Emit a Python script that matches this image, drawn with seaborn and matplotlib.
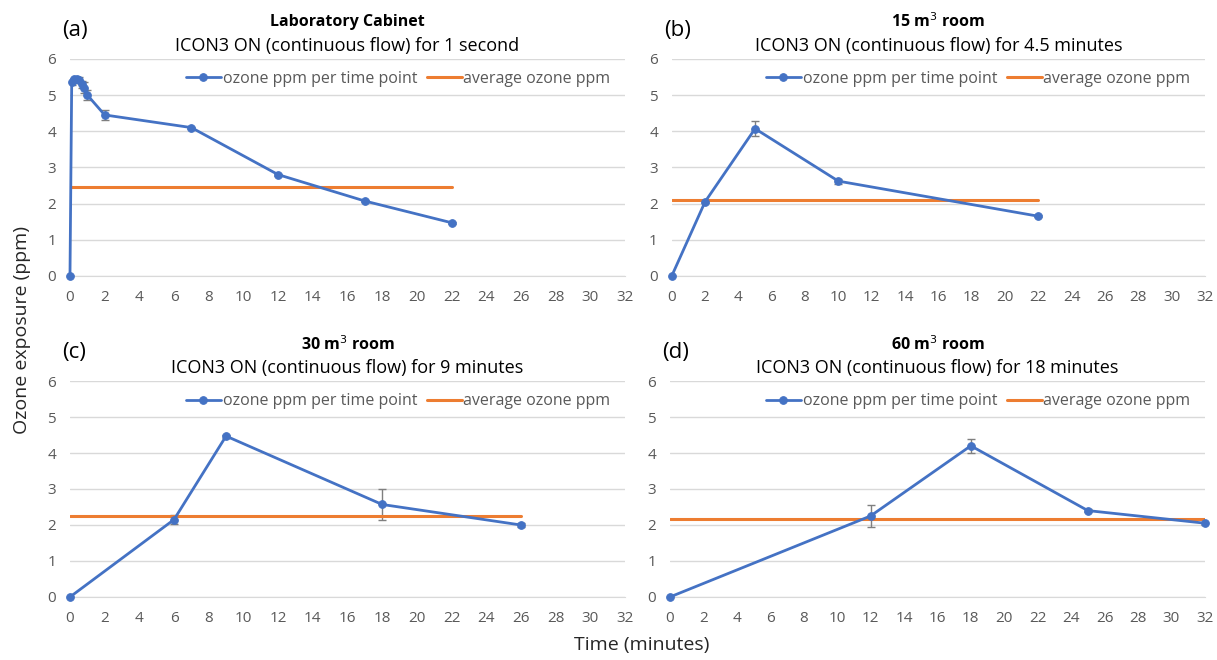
import seaborn as sns
import matplotlib.pyplot as plt
import pandas as pd

# panel (a) laboratory cabinet
t_a = [0, 0.1, 0.25, 0.4, 0.5, 0.67, 0.83, 1, 2, 7, 12, 17, 22]
ppm_a = [0, 5.35, 5.43, 5.45, 5.42, 5.3, 5.2, 5.0, 4.45, 4.1, 2.8, 2.07, 1.47]
err_a = [0, 0.08, 0.05, 0.05, 0.08, 0.1, 0.15, 0.15, 0.15, 0.03, 0.03, 0.03, 0.03]
avg_a = 2.47

# panel (b) 15 m3 room
t_b = [0, 2, 5, 10, 22]
ppm_b = [0, 2.05, 4.07, 2.62, 1.65]
err_b = [0, 0.03, 0.2, 0.07, 0.03]
avg_b = 2.1

# panel (c) 30 m3 room
t_c = [0, 6, 9, 18, 26]
ppm_c = [0, 2.15, 4.47, 2.57, 2.0]
err_c = [0, 0.13, 0.04, 0.42, 0.06]
avg_c = 2.24

# panel (d) 60 m3 room
t_d = [0, 12, 18, 25, 32]
ppm_d = [0, 2.25, 4.2, 2.4, 2.05]
err_d = [0, 0.3, 0.2, 0.04, 0.04]
avg_d = 2.18

panel_tags = ["(a)", "(b)", "(c)", "(d)"]
titles = ["Laboratory Cabinet", "15 m$^3$ room", "30 m$^3$ room", "60 m$^3$ room"]
subtitles = ["ICON3 ON (continuous flow) for 1 second",
             "ICON3 ON (continuous flow) for 4.5 minutes",
             "ICON3 ON (continuous flow) for 9 minutes",
             "ICON3 ON (continuous flow) for 18 minutes"]

sns.set_style("white")
plt.rcParams['font.family'] = ['Open Sans', 'DejaVu Sans']

BLUE = "#4472C4"
ORANGE = "#ED7D31"
GREY = "#595959"

fig = plt.figure(figsize=(12.17, 6.6), dpi=100)
rects = [
    [0.0575, 0.582, 0.456, 0.3288],
    [0.552, 0.582, 0.438, 0.3288],
    [0.0575, 0.0955, 0.456, 0.3272],
    [0.5505, 0.0955, 0.4395, 0.3272],
]
panels = [
    (t_a, ppm_a, err_a, avg_a),
    (t_b, ppm_b, err_b, avg_b),
    (t_c, ppm_c, err_c, avg_c),
    (t_d, ppm_d, err_d, avg_d),
]

for i, (t, ppm, err, avg) in enumerate(panels):
    ax = fig.add_axes(rects[i])
    df = pd.DataFrame({"Time": t, "ppm": ppm})
    ax.errorbar(t, ppm, yerr=err, fmt="none", ecolor="#7f7f7f", elinewidth=1,
                capsize=3, capthick=1, zorder=2)
    sns.lineplot(data=df, x="Time", y="ppm", ax=ax, color=BLUE, marker="o",
                 markersize=5.5, markeredgecolor=BLUE, linewidth=2,
                 label="ozone ppm per time point", zorder=3)
    ax.lines[-1].set_clip_on(False)
    ax.plot([0, max(t)], [avg, avg], color=ORANGE, linewidth=2.2,
            label="average ozone ppm", zorder=2.5)

    ax.set_xlim(0, 32)
    ax.set_ylim(0, 6)
    ax.set_xticks(range(0, 33, 2))
    ax.set_yticks(range(0, 7))
    ax.grid(axis="y", color="#d9d9d9", linewidth=1)
    ax.set_axisbelow(True)
    for s in ["top", "right", "left"]:
        ax.spines[s].set_visible(False)
    ax.spines["bottom"].set_color("#d9d9d9")
    ax.tick_params(axis="x", direction="in", length=4, color="#d9d9d9",
                   labelcolor=GREY, labelsize=11, pad=10)
    ax.tick_params(axis="y", length=0, labelcolor=GREY, labelsize=11, pad=10)
    ax.set_xlabel("")
    ax.set_ylabel("")

    ax.legend(loc="upper right", bbox_to_anchor=(1.0, 1.01), ncol=2, frameon=False,
              fontsize=11.5, handlelength=2.2, handletextpad=0.1, columnspacing=0.6,
              labelcolor=GREY)

    ax.text(0.5, 1.17, titles[i], transform=ax.transAxes, ha="center",
            va="center", fontsize=11.5, fontweight="bold", color="black")
    ax.text(0.5, 1.058, subtitles[i], transform=ax.transAxes, ha="center",
            va="center", fontsize=13, color="black")
    ax.text(-0.015, 1.13, panel_tags[i], transform=ax.transAxes, ha="left",
            va="center", fontsize=16, color="black")

fig.text(0.018, 0.5, "Ozone exposure (ppm)", rotation=90, ha="center",
         va="center", fontsize=14)
fig.text(0.527, 0.022, "Time (minutes)", ha="center", va="center", fontsize=14)

fig.savefig("out.png", dpi=100)
